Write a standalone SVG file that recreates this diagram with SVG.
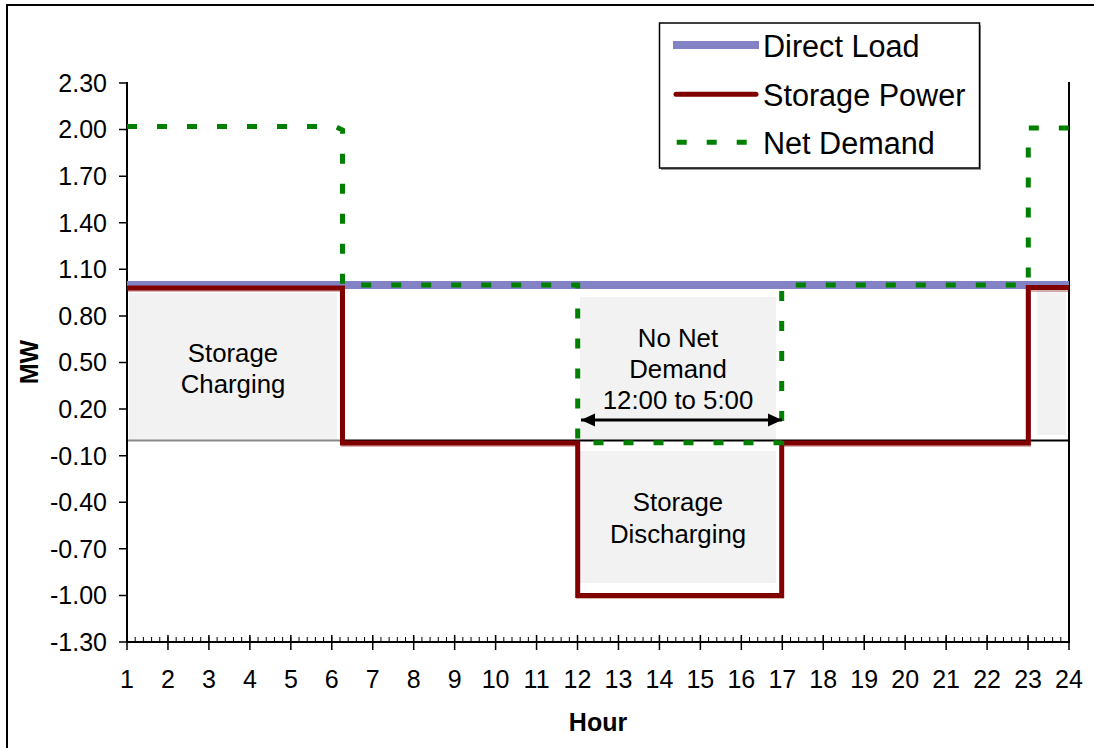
<svg xmlns="http://www.w3.org/2000/svg" width="1094" height="748" viewBox="0 0 1094 748">
<style>
text{font-family:"Liberation Sans",Arial,sans-serif;fill:#000}
.yl{font-size:25px;text-anchor:end}
.xl{font-size:25px;text-anchor:middle}
.ttl{font-size:25px;font-weight:bold;text-anchor:middle}
.lg{font-size:30.6px}
.ann{font-size:25.8px;text-anchor:middle}
.box{fill:#f2f2f2}
.load{fill:none;stroke:#8282c4;stroke-width:8}
.stor{fill:none;stroke:#800000;stroke-width:5;stroke-linejoin:miter}
.net{fill:none;stroke:#008000;stroke-width:5;stroke-dasharray:10 20}
</style>
<defs>
<marker id="ah" markerUnits="userSpaceOnUse" markerWidth="15" markerHeight="14" refX="14" refY="7" orient="auto-start-reverse" viewBox="0 0 15 14">
<path d="M0,0.5 L14,7 L0,13.5 z" fill="#000"/>
</marker>
</defs>
<rect x="0" y="0" width="1094" height="748" fill="#fff"/>
<rect x="7" y="5" width="1100" height="760" fill="none" stroke="#000" stroke-width="2"/>

<g id="annotation-boxes">
<rect class="box" x="129" y="293" width="208" height="147"/>
<rect class="box" x="580" y="297" width="196" height="143"/>
<rect class="box" x="580" y="451" width="196" height="132"/>
<rect class="box" x="1037" y="287" width="29" height="148"/>
</g>

<g id="axes">
<line x1="127" y1="440.5" x2="340" y2="440.5" stroke="#888" stroke-width="2"/>
<line x1="340" y1="440.5" x2="1069" y2="440.5" stroke="#000" stroke-width="2"/>
<line x1="127" y1="82" x2="127" y2="643" stroke="#000" stroke-width="2"/>
<line x1="1069" y1="82" x2="1069" y2="643" stroke="#000" stroke-width="2"/>
<line x1="126" y1="642" x2="1070" y2="642" stroke="#000" stroke-width="2"/>
<line x1="126.5" y1="639.5" x2="1069.5" y2="639.5" stroke="#000" stroke-width="5" stroke-dasharray="1 7.1913"/>
<path d="M119,83H127M119,129.58H127M119,176.17H127M119,222.75H127M119,269.33H127M119,315.92H127M119,362.5H127M119,409.08H127M119,455.67H127M119,502.25H127M119,548.83H127M119,595.42H127M119,642H127" stroke="#000" stroke-width="1.5"/>
<path d="M127,642V650M167.96,635V650M208.91,635V650M249.87,635V650M290.83,635V650M331.78,635V650M372.74,635V650M413.7,635V650M454.65,635V650M495.61,635V650M536.57,635V650M577.52,635V650M618.48,635V650M659.44,635V650M700.39,635V650M741.35,635V650M782.3,635V650M823.26,635V650M864.22,635V650M905.17,635V650M946.13,635V650M987.09,635V650M1028.04,635V650M1069,642V650" stroke="#000" stroke-width="1.5"/>
<g>
<text class="yl" x="107" y="91.8">2.30</text>
<text class="yl" x="107" y="138.4">2.00</text>
<text class="yl" x="107" y="185">1.70</text>
<text class="yl" x="107" y="231.6">1.40</text>
<text class="yl" x="107" y="278.1">1.10</text>
<text class="yl" x="107" y="324.7">0.80</text>
<text class="yl" x="107" y="371.3">0.50</text>
<text class="yl" x="107" y="417.9">0.20</text>
<text class="yl" x="107" y="464.5">-0.10</text>
<text class="yl" x="107" y="511.1">-0.40</text>
<text class="yl" x="107" y="557.6">-0.70</text>
<text class="yl" x="107" y="604.2">-1.00</text>
<text class="yl" x="107" y="650.8">-1.30</text>
</g>
<g>
<text class="xl" x="127" y="688">1</text>
<text class="xl" x="167.96" y="688">2</text>
<text class="xl" x="208.91" y="688">3</text>
<text class="xl" x="249.87" y="688">4</text>
<text class="xl" x="290.83" y="688">5</text>
<text class="xl" x="331.78" y="688">6</text>
<text class="xl" x="372.74" y="688">7</text>
<text class="xl" x="413.7" y="688">8</text>
<text class="xl" x="454.65" y="688">9</text>
<text class="xl" x="495.61" y="688">10</text>
<text class="xl" x="536.57" y="688">11</text>
<text class="xl" x="577.52" y="688">12</text>
<text class="xl" x="618.48" y="688">13</text>
<text class="xl" x="659.44" y="688">14</text>
<text class="xl" x="700.39" y="688">15</text>
<text class="xl" x="741.35" y="688">16</text>
<text class="xl" x="782.3" y="688">17</text>
<text class="xl" x="823.26" y="688">18</text>
<text class="xl" x="864.22" y="688">19</text>
<text class="xl" x="905.17" y="688">20</text>
<text class="xl" x="946.13" y="688">21</text>
<text class="xl" x="987.09" y="688">22</text>
<text class="xl" x="1028.04" y="688">23</text>
<text class="xl" x="1069" y="688">24</text>
</g>
<text class="ttl" x="598" y="731">Hour</text>
<text class="ttl" transform="translate(38,362) rotate(-90)">MW</text>
</g>

<g id="series">
<path class="load" d="M127,285H1069"/>
<path d="M127,290H343V445H578V597H782V445H1029V290H1069" fill="none" stroke="#800000" stroke-opacity="0.3" stroke-width="4"/>
<path class="stor" d="M127,288H342.5V443H577.7V595.5H781.7V443H1028.3V287.5H1069"/>
<path class="net" d="M127,126.5H335L342.5,130V285H577.7V442.7H781.7V285H1028.3V128H1069"/>
</g>

<g id="annotations">
<text class="ann" x="233" y="362">Storage</text>
<text class="ann" x="233" y="392.5">Charging</text>
<text class="ann" x="678" y="346.5">No Net</text>
<text class="ann" x="678" y="378">Demand</text>
<text class="ann" x="678" y="409">12:00 to 5:00</text>
<line x1="581" y1="420" x2="782" y2="420" stroke="#000" stroke-width="3" marker-start="url(#ah)" marker-end="url(#ah)"/>
<text class="ann" x="678" y="510.5">Storage</text>
<text class="ann" x="678" y="542.5">Discharging</text>
</g>

<g id="legend">
<rect x="661" y="25" width="320" height="145" fill="#999"/>
<rect x="659.5" y="23" width="320" height="145" fill="#fff" stroke="#000" stroke-width="1.5"/>
<line x1="673" y1="45" x2="759" y2="45" stroke="#8282c4" stroke-width="8"/>
<line x1="676" y1="94.3" x2="756" y2="94.3" stroke="#800000" stroke-width="5" stroke-linecap="round"/>
<line x1="676.7" y1="142.3" x2="747" y2="142.3" stroke="#008000" stroke-width="5" stroke-dasharray="10 20"/>
<text class="lg" x="763" y="57.3">Direct Load</text>
<text class="lg" x="763" y="106">Storage Power</text>
<text class="lg" x="763" y="154">Net Demand</text>
</g>
</svg>
